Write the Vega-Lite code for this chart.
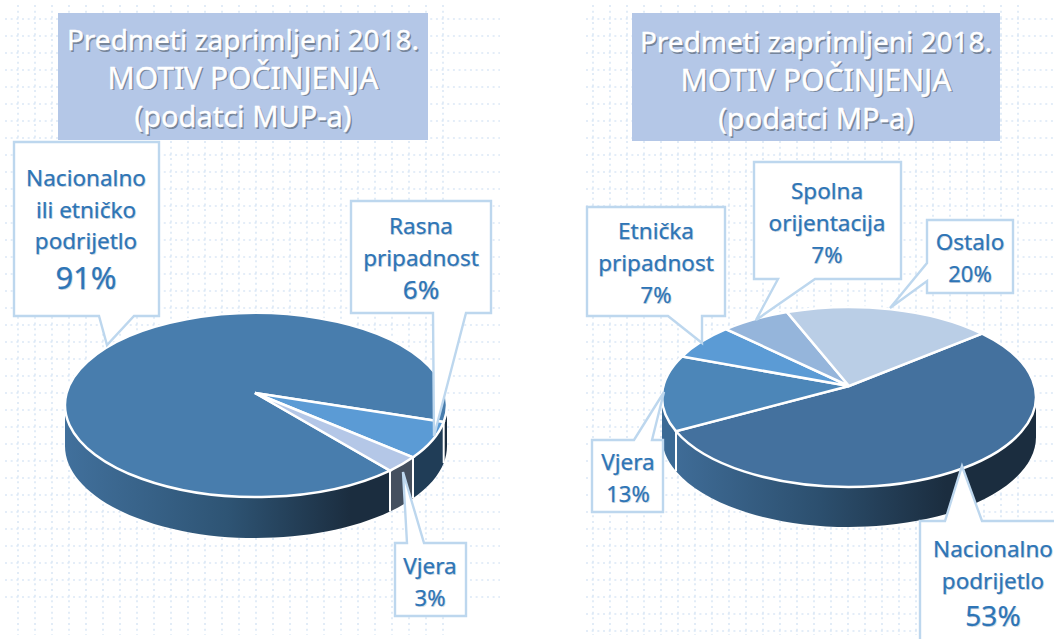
{
"$schema":"https://vega.github.io/schema/vega-lite/v6.json",
"width":1054,"height":639,"padding":0,"autosize":{"type":"none"},
"background":"white",
"config":{"view":{"stroke":null}},
"params":[{"name":"poz","value":{
"MUP":[-12,-343],"MP":[-33,-334],
"MUP-N":[-169,-207,-104,31],"MUP-R":[166,-159,-94,26],"MUP-V":[175,181,213,22],
"MP-N":[144,171,240,28],"MP-V":[-221,84,116,22],"MP-E":[-193,-147,-83,22],"MP-S":[-22,-187,-123,22],"MP-O":[121,-136,-104,22]}}],
"datasets":{
"paneli":[{"izvor":"MUP"},{"izvor":"MP"}],
"naslovi":[
{"izvor":"MUP","red":0,"tekst":"Predmeti zaprimljeni 2018."},
{"izvor":"MUP","red":1,"tekst":"MOTIV POČINJENJA"},
{"izvor":"MUP","red":2,"tekst":"(podatci MUP-a)"},
{"izvor":"MP","red":0,"tekst":"Predmeti zaprimljeni 2018."},
{"izvor":"MP","red":1,"tekst":"MOTIV POČINJENJA"},
{"izvor":"MP","red":2,"tekst":"(podatci MP-a)"}],
"udjeli":[
{"izvor":"MUP","kljuc":"MUP-N","motiv":"Nacionalno ili etničko podrijetlo","naziv":["Nacionalno","ili etničko","podrijetlo"],"udio":0.91},
{"izvor":"MUP","kljuc":"MUP-R","motiv":"Rasna pripadnost","naziv":["Rasna","pripadnost"],"udio":0.06},
{"izvor":"MUP","kljuc":"MUP-V","motiv":"Vjera","naziv":["Vjera"],"udio":0.03},
{"izvor":"MP","kljuc":"MP-N","motiv":"Nacionalno podrijetlo","naziv":["Nacionalno","podrijetlo"],"udio":0.53},
{"izvor":"MP","kljuc":"MP-V","motiv":"Vjera","naziv":["Vjera"],"udio":0.13},
{"izvor":"MP","kljuc":"MP-E","motiv":"Etnička pripadnost","naziv":["Etnička","pripadnost"],"udio":0.07},
{"izvor":"MP","kljuc":"MP-S","motiv":"Spolna orijentacija","naziv":["Spolna","orijentacija"],"udio":0.07},
{"izvor":"MP","kljuc":"MP-O","motiv":"Ostalo","naziv":["Ostalo"],"udio":0.20}]
},
"encoding":{
"x":{"field":"izvor","type":"nominal","axis":null,"scale":{"domain":["MUP","MP"],"range":[255,849],"padding":0}},
"y":{"field":"izvor","type":"nominal","axis":null,"scale":{"domain":["MUP","MP"],"range":[393,386],"padding":0}}
},
"layer":[
{"data":{"name":"paneli"},
"mark":{"type":"point","size":4,"opacity":1,"filled":false,"stroke":"#DBE8F6","strokeWidth":1.6,"strokeDash":[2,3.67]},
"encoding":{"shape":{"field":"izvor","type":"nominal","legend":null,"scale":{"domain":["MUP","MP"],"range":[
"M-237 -388v630m17-630v630m17-630v630m17-630v630m17-630v630m17-630v630m17-630v630m17-630v630m17-630v630m17-630v630m17-630v630m17-630v630m17-630v630m17-630v630m17-630v630m17-630v630m17-630v630m17-630v630m17-630v630m17-630v630m17-630v630m17-630v630m17-630v630m17-630v630m17-630v630m17-630v630m17-630M-250 -374h495m-495 17h495m-495 17h495m-495 17h495m-495 17h495m-495 17h495m-495 17h495m-495 17h495m-495 17h495m-495 17h495m-495 17h495m-495 17h495m-495 17h495m-495 17h495m-495 17h495m-495 17h495m-495 17h495m-495 17h495m-495 17h495m-495 17h495m-495 17h495m-495 17h495m-495 17h495m-495 17h495m-495 17h495m-495 17h495m-495 17h495m-495 17h495m-495 17h495m-495 17h495m-495 17h495m-495 17h495m-495 17h495m-495 17h495m-495 17h495",
"M-256 -381v630m17-630v630m17-630v630m17-630v630m17-630v630m17-630v630m17-630v630m17-630v630m17-630v630m17-630v630m17-630v630m17-630v630m17-630v630m17-630v630m17-630v630m17-630v630m17-630v630m17-630v630m17-630v630m17-630v630m17-630v630m17-630v630m17-630v630m17-630v630m17-630v630m17-630v630m17-630M-263 -367h468m-468 17h468m-468 17h468m-468 17h468m-468 17h468m-468 17h468m-468 17h468m-468 17h468m-468 17h468m-468 17h468m-468 17h468m-468 17h468m-468 17h468m-468 17h468m-468 17h468m-468 17h468m-468 17h468m-468 17h468m-468 17h468m-468 17h468m-468 17h468m-468 17h468m-468 17h468m-468 17h468m-468 17h468m-468 17h468m-468 17h468m-468 17h468m-468 17h468m-468 17h468m-468 17h468m-468 17h468m-468 17h468m-468 17h468m-468 17h468m-468 17h468m-468 17h468"
]}}}},
{"data":{"name":"udjeli"},
"transform":[{"filter":"datum.kljuc=='MUP-R'||datum.kljuc=='MUP-V'||datum.kljuc=='MUP-N'||datum.kljuc=='MP-V'"}],
"mark":{"type":"point","size":4,"opacity":1,"filled":true},
"encoding":{
"shape":{"field":"kljuc","type":"nominal","legend":null,"scale":{"domain":["MUP-N","MUP-R","MUP-V","MP-V"],"range":[
"M192 12A191 92 0 0 1 188.7 29v41A191 92 0 0 0 192 53Z",
"M188.7 29A191 92 0 0 1 158 64.3v41A191 92 0 0 0 188.7 70Z",
"M158 64.3A191 92 0 0 1 135 77.6v41A191 92 0 0 0 158 105.3Z",
"M-173 45.2A187 90 0 0 1 -187 11v40A187 90 0 0 0 -173 85.2Z"]}},
"fill":{"field":"kljuc","type":"nominal","legend":null,"scale":{"domain":["MUP-N","MUP-R","MUP-V","MP-V"],"range":["#1B2D3F","#203D57","#45505F","#3B6A95"]}}}},
{"data":{"name":"udjeli"},
"transform":[{"filter":"datum.kljuc=='MUP-N'"}],
"mark":{"type":"point","size":4,"opacity":1,"filled":true,"shape":"M135 77.6A191 92 0 0 1 -190 12v41A191 92 0 0 0 135 118.6Z",
"fill":{"gradient":"linear","x1":0,"x2":1,"y1":0,"y2":0,"stops":[{"offset":0,"color":"#41709C"},{"offset":0.5,"color":"#2E5474"},{"offset":0.88,"color":"#1B2D3F"},{"offset":1,"color":"#1B2D3F"}]}}},
{"data":{"name":"udjeli"},
"transform":[{"filter":"datum.kljuc=='MP-N'"}],
"mark":{"type":"point","size":4,"opacity":1,"filled":true,"shape":"M187 11A187 90 0 0 1 -173 45.2v40A187 90 0 0 0 187 51Z",
"fill":{"gradient":"linear","x1":0,"x2":1,"y1":0,"y2":0,"stops":[{"offset":0,"color":"#3F6C97"},{"offset":0.4,"color":"#2C4F6E"},{"offset":0.75,"color":"#1B2D3F"},{"offset":1,"color":"#1B2D3F"}]}}},
{"data":{"name":"paneli"},
"mark":{"type":"point","size":4,"opacity":1,"filled":false,"stroke":"#FFFFFF","strokeWidth":2},
"encoding":{"shape":{"field":"izvor","type":"nominal","legend":null,"scale":{"domain":["MUP","MP"],"range":["M135 77.6v41M158 64.3v41M188.7 29v41","M-173 45.2v40"]}}}},
{"data":{"name":"udjeli"},
"mark":{"type":"point","size":4,"opacity":1,"filled":true,"stroke":"#FFFFFF","strokeWidth":2.5},
"encoding":{
"shape":{"field":"kljuc","type":"nominal","legend":null,"scale":{"domain":["MUP-N","MUP-R","MUP-V","MP-N","MP-V","MP-E","MP-S","MP-O"],"range":[
"M0 0L135 77.6A191 92 0 1 1 188.7 29Z",
"M0 0L188.7 29A191 92 0 0 1 158 64.3Z",
"M0 0L158 64.3A191 92 0 0 1 135 77.6Z",
"M0 0L133 -52.3A187 90 0 1 1 -173 45.2Z",
"M0 0L-173 45.2A187 90 0 0 1 -167 -29.5Z",
"M0 0L-167 -29.5A187 90 0 0 1 -123 -56.8Z",
"M0 0L-123 -56.8A187 90 0 0 1 -62 -73.9Z",
"M0 0L-62 -73.9A187 90 0 0 1 133 -52.3Z"]}},
"fill":{"field":"kljuc","type":"nominal","legend":null,"scale":{"domain":["MUP-N","MUP-R","MUP-V","MP-N","MP-V","MP-E","MP-S","MP-O"],"range":["#487DAD","#5B9BD5","#B4C7E7","#44719E","#4C86B8","#5B9BD5","#95B5DB","#BACEE6"]}}}},
{"data":{"name":"udjeli"},
"mark":{"type":"point","size":4,"opacity":1,"filled":true,"fill":"#FFFFFF","stroke":"#BDD7EE","strokeWidth":2.4},
"encoding":{
"shape":{"field":"kljuc","type":"nominal","legend":null,"scale":{"domain":["MUP-N","MUP-R","MUP-V","MP-N","MP-V","MP-E","MP-S","MP-O"],"range":[
"M-241 -251H-96V-77H-121L-148 -48L-156 -77H-241Z",
"M96 -192H236V-80H211L179 43L178 -80H96Z",
"M140 150H152L148 79L169 150H211V223H140Z",
"M71 135H96L113 80L133 135H211V264H71Z",
"M-257 54H-215L-185 6L-197 54H-186V126H-257Z",
"M-262 -179H-124V-70H-147V-43L-181 -70H-262Z",
"M-95 -224H52V-107H-34L-93 -66L-71 -107H-95Z",
"M78 -166H164V-93H78V-105L41 -78L78 -123Z"]}}}},
{"data":{"name":"paneli"},
"mark":{"type":"point","size":4,"opacity":1,"filled":true,"fill":"#B4C7E7"},
"encoding":{"shape":{"field":"izvor","type":"nominal","legend":null,"scale":{"domain":["MUP","MP"],"range":["M-197 -380H173V-253H-197Z","M-217 -373H151V-245H-217Z"]}}}},
{"data":{"name":"naslovi"},
"mark":{"type":"text","font":"Noto Sans","align":"center","baseline":"alphabetic","fill":"#4F5B6A","opacity":0.6,"fontSize":{"expr":"datum.red==0?28:datum.red==1?30:29"},"dx":{"expr":"poz[datum.izvor][0]+1.5"},"dy":{"expr":"poz[datum.izvor][1]+38.5*datum.red+1.5"}},
"encoding":{"text":{"field":"tekst","type":"nominal"}}},
{"data":{"name":"naslovi"},
"mark":{"type":"text","font":"Noto Sans","align":"center","baseline":"alphabetic","fill":"#FFFFFF","stroke":"#FFFFFF","strokeWidth":0.4,"fontSize":{"expr":"datum.red==0?28:datum.red==1?30:29"},"dx":{"expr":"poz[datum.izvor][0]"},"dy":{"expr":"poz[datum.izvor][1]+38.5*datum.red"}},
"encoding":{"text":{"field":"tekst","type":"nominal"}}},
{"data":{"name":"udjeli"},
"mark":{"type":"text","font":"Noto Sans","fontSize":22.5,"align":"center","baseline":"alphabetic","lineHeight":31.5,"fill":"#7F93A8","opacity":0.3,"dx":{"expr":"poz[datum.kljuc][0]+1"},"dy":{"expr":"poz[datum.kljuc][1]+1"}},
"encoding":{"text":{"field":"naziv","type":"nominal"}}},
{"data":{"name":"udjeli"},
"mark":{"type":"text","font":"Noto Sans","align":"center","baseline":"alphabetic","fill":"#7F93A8","opacity":0.3,"dx":{"expr":"poz[datum.kljuc][0]+1"},"dy":{"expr":"poz[datum.kljuc][2]+1"},"fontSize":{"expr":"poz[datum.kljuc][3]"}},
"encoding":{"text":{"field":"udio","type":"quantitative","format":".0%"}}},
{"data":{"name":"udjeli"},
"mark":{"type":"text","font":"Noto Sans","fontSize":22.5,"align":"center","baseline":"alphabetic","lineHeight":31.5,"fill":"#2E75B6","stroke":"#2E75B6","strokeWidth":0.25,"dx":{"expr":"poz[datum.kljuc][0]"},"dy":{"expr":"poz[datum.kljuc][1]"}},
"encoding":{"text":{"field":"naziv","type":"nominal"}}},
{"data":{"name":"udjeli"},
"mark":{"type":"text","font":"Noto Sans","align":"center","baseline":"alphabetic","fill":"#2E75B6","stroke":"#2E75B6","strokeWidth":0.25,"dx":{"expr":"poz[datum.kljuc][0]"},"dy":{"expr":"poz[datum.kljuc][2]"},"fontSize":{"expr":"poz[datum.kljuc][3]"}},
"encoding":{"text":{"field":"udio","type":"quantitative","format":".0%"}}}
],
"resolve":{"scale":{"shape":"independent","fill":"independent"}}
}
